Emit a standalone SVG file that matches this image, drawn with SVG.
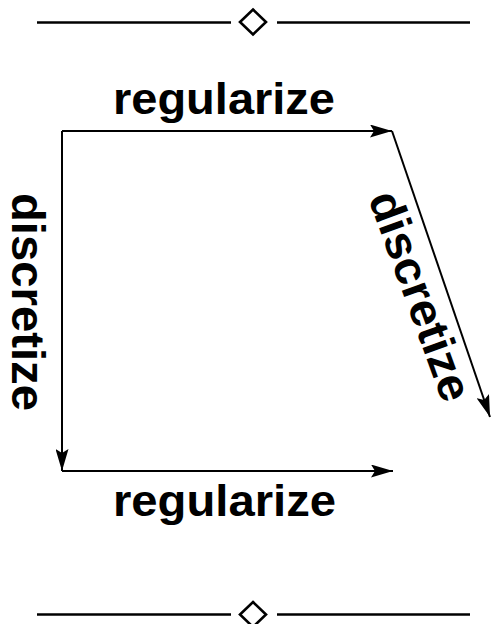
<svg xmlns="http://www.w3.org/2000/svg" width="493" height="624" viewBox="0 0 493 624">
<style>
.ln{stroke:#000;stroke-width:2;fill:none}
.rule{stroke:#000;stroke-width:2.4;fill:none}
.dia{stroke:#000;stroke-width:2.6;fill:#fff}
.lbl{font-family:"Liberation Sans",Arial,sans-serif;font-weight:bold;font-size:44px;fill:#000}
.vl{font-size:46px}
</style>
<defs>
<marker id="ah" markerUnits="userSpaceOnUse" markerWidth="22" markerHeight="13" refX="22" refY="6.5" orient="auto">
<path d="M0,0 L22,6.5 L0,13 L4,6.5 Z" fill="#000"/>
</marker>
</defs>
<g id="rule-top">
<line class="rule" x1="37" y1="22.5" x2="231" y2="22.5"/>
<line class="rule" x1="277" y1="22.5" x2="470" y2="22.5"/>
<path class="dia" d="M253,9.5 L266,22 L253,34.5 L240,22 Z"/>
</g>
<g id="rule-bottom">
<line class="rule" x1="37" y1="614.5" x2="231" y2="614.5"/>
<line class="rule" x1="277" y1="614.5" x2="470" y2="614.5"/>
<path class="dia" d="M253,602 L266,614.5 L253,627 L240,614.5 Z"/>
</g>
<g id="connectors">
<line class="ln" x1="62" y1="131" x2="392" y2="131" marker-end="url(#ah)"/>
<line class="ln" x1="62" y1="131" x2="62" y2="471" marker-end="url(#ah)"/>
<line class="ln" x1="62" y1="471" x2="393" y2="471" marker-end="url(#ah)"/>
<line class="ln" x1="392" y1="131" x2="490" y2="417" marker-end="url(#ah)"/>
</g>
<g id="label-top"><text class="lbl" x="113" y="114" textLength="222" lengthAdjust="spacingAndGlyphs">regularize</text></g>
<g id="label-bottom"><text class="lbl" x="113" y="516" textLength="223" lengthAdjust="spacingAndGlyphs">regularize</text></g>
<g id="label-left"><text class="lbl vl" transform="translate(12,193) rotate(90)" x="0" y="0" textLength="218" lengthAdjust="spacingAndGlyphs">discretize</text></g>
<g id="label-diag"><text class="lbl vl" transform="translate(368,198) rotate(70)" x="0" y="0" textLength="220" lengthAdjust="spacingAndGlyphs">discretize</text></g>
</svg>
